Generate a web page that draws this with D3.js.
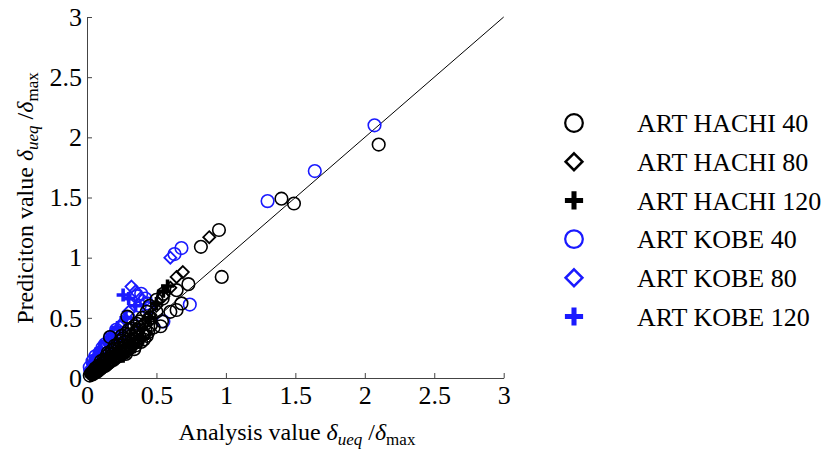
<!DOCTYPE html>
<html>
<head>
<meta charset="utf-8">
<script src="https://cdn.jsdelivr.net/npm/d3@7"></script>
<style>
  body { margin: 0; background: #fff; }
  svg text { font-family: "Liberation Serif", Tinos, "Times New Roman", Times, "DejaVu Serif", serif; }
</style>
</head>
<body>
<svg id="chart" width="829" height="451"></svg>
<script>
// values: [analysis, prediction]
const hachi40 = [
  [2.10, 1.94], [1.40, 1.49], [1.49, 1.45], [0.95, 1.23], [0.82, 1.09], [0.97, 0.84],
  [0.73, 0.78], [0.645, 0.73], [0.68, 0.62], [0.645, 0.565], [0.545, 0.66], [0.55, 0.70],
  [0.54, 0.47], [0.53, 0.43], [0.29, 0.51], [0.165, 0.34], [0.43, 0.55], [0.60, 0.55],
  [0.02, 0.02], [0.03, 0.04], [0.04, 0.03], [0.05, 0.06], [0.06, 0.05], [0.07, 0.08],
  [0.08, 0.06], [0.09, 0.10], [0.10, 0.08], [0.11, 0.12], [0.12, 0.10], [0.13, 0.14],
  [0.14, 0.11], [0.15, 0.16], [0.16, 0.13], [0.17, 0.18], [0.18, 0.15], [0.19, 0.20],
  [0.20, 0.17], [0.21, 0.22], [0.22, 0.19], [0.23, 0.25], [0.24, 0.20], [0.25, 0.27],
  [0.26, 0.22], [0.27, 0.30], [0.28, 0.24], [0.30, 0.32], [0.31, 0.26], [0.32, 0.35],
  [0.33, 0.28], [0.35, 0.38], [0.36, 0.30], [0.38, 0.42], [0.40, 0.36], [0.42, 0.45],
  [0.44, 0.38], [0.46, 0.50], [0.48, 0.42], [0.50, 0.55], [0.36, 0.45], [0.30, 0.40],
  [0.25, 0.35], [0.20, 0.27], [0.15, 0.21], [0.10, 0.14], [0.40, 0.50], [0.45, 0.60],
  [0.50, 0.65], [0.38, 0.34], [0.34, 0.24], [0.28, 0.20],
  [0.05, 0.04], [0.07, 0.05], [0.09, 0.07], [0.11, 0.09], [0.13, 0.10], [0.15, 0.12],
  [0.17, 0.14], [0.19, 0.15], [0.21, 0.17], [0.23, 0.18], [0.25, 0.20], [0.27, 0.21],
  [0.29, 0.23], [0.31, 0.25], [0.35, 0.27], [0.39, 0.30], [0.41, 0.32], [0.43, 0.35],
  [0.06, 0.08], [0.08, 0.10], [0.12, 0.15], [0.14, 0.18], [0.18, 0.23], [0.22, 0.28],
  [0.26, 0.33], [0.28, 0.37], [0.32, 0.41], [0.34, 0.43], [0.38, 0.47], [0.24, 0.31],
  [0.16, 0.20], [0.20, 0.24], [0.30, 0.36], [0.36, 0.40], [0.42, 0.40], [0.46, 0.44],
  [0.44, 0.48]
];
const hachi80 = [
  [0.88, 1.17], [0.69, 0.88], [0.645, 0.84], [0.60, 0.75], [0.55, 0.68], [0.50, 0.60],
  [0.45, 0.52], [0.40, 0.44], [0.35, 0.38], [0.30, 0.30], [0.25, 0.26], [0.20, 0.20],
  [0.15, 0.15], [0.10, 0.10], [0.06, 0.06], [0.03, 0.03], [0.42, 0.36], [0.33, 0.27],
  [0.22, 0.17], [0.12, 0.09]
];
const hachi120 = [
  [0.58, 0.765], [0.55, 0.72], [0.50, 0.62], [0.45, 0.50], [0.40, 0.33], [0.37, 0.32],
  [0.32, 0.28], [0.28, 0.22], [0.24, 0.20], [0.20, 0.16], [0.16, 0.13], [0.12, 0.10],
  [0.08, 0.07], [0.05, 0.04], [0.03, 0.02], [0.34, 0.26], [0.26, 0.18]
];
const kobe40 = [
  [2.07, 2.10], [1.64, 1.72], [1.30, 1.47], [0.68, 1.08], [0.63, 1.03], [0.74, 0.61],
  [0.55, 0.47], [0.36, 0.68], [0.39, 0.70], [0.42, 0.66], [0.43, 0.62], [0.38, 0.60],
  [0.30, 0.50], [0.25, 0.42], [0.20, 0.35], [0.16, 0.30], [0.12, 0.24], [0.08, 0.17],
  [0.05, 0.10], [0.03, 0.06], [0.10, 0.20], [0.14, 0.26], [0.18, 0.32], [0.22, 0.38],
  [0.06, 0.14], [0.15, 0.14], [0.25, 0.20], [0.44, 0.58], [0.33, 0.45],
  [0.04, 0.14], [0.06, 0.18], [0.09, 0.21], [0.11, 0.25], [0.13, 0.28], [0.17, 0.34],
  [0.21, 0.40], [0.19, 0.30], [0.23, 0.36], [0.02, 0.09]
];
const kobe80 = [
  [0.60, 1.00], [0.32, 0.76], [0.35, 0.72], [0.40, 0.65], [0.30, 0.55], [0.25, 0.45],
  [0.20, 0.38], [0.15, 0.30], [0.10, 0.22], [0.06, 0.15], [0.03, 0.08], [0.28, 0.48],
  [0.18, 0.33]
];
const kobe120 = [
  [0.26, 0.69], [0.30, 0.66], [0.28, 0.50], [0.22, 0.42], [0.18, 0.36], [0.14, 0.30],
  [0.10, 0.24], [0.07, 0.18], [0.04, 0.12], [0.02, 0.06], [0.35, 0.60]
];

const seriesNames = ['ART HACHI 40', 'ART HACHI 80', 'ART HACHI 120', 'ART KOBE 40', 'ART KOBE 80', 'ART KOBE 120'];
const seriesData  = [hachi40, hachi80, hachi120, kobe40, kobe80, kobe120];
const seriesShape = ['circle', 'diamond', 'plus', 'circle', 'diamond', 'plus'];
const seriesColor = ['#000', '#000', '#000', '#1a1aff', '#1a1aff', '#1a1aff'];
const drawOrder   = [3, 4, 5, 0, 1, 2]; // black sits on top in the dense cluster
const ticks = [0, 0.5, 1, 1.5, 2, 2.5, 3];

const svg = d3.select('#chart');
const x = d3.scaleLinear().domain([0, 3]).range([87, 503.7]);
const y = d3.scaleLinear().domain([0, 3]).range([378, 17]);

function marker(sel, shape, color, s) {
  if (shape === 'circle') {
    sel.append('circle').attr('r', 6.3 * s)
      .attr('fill', 'none').attr('stroke', color).attr('stroke-width', 1.6 * s);
  } else if (shape === 'diamond') {
    const d = 6 * s;
    sel.append('path').attr('d', `M0,${-d}L${d},0L0,${d}L${-d},0Z`)
      .attr('fill', 'none').attr('stroke', color).attr('stroke-width', 1.8 * s);
  } else {
    const a = 6.5 * s;
    sel.append('path').attr('d', `M${-a},0H${a}M0,${-a}V${a}`)
      .attr('fill', 'none').attr('stroke', color).attr('stroke-width', 3.6 * s);
  }
}

// axes
const fmt = d => d3.format('')(d);
const xAxis = svg.append('g').attr('transform', `translate(0,${y(0)})`)
  .call(d3.axisBottom(x).tickValues(ticks).tickFormat(fmt).tickSizeInner(-5).tickSizeOuter(0).tickPadding(8));
const yAxis = svg.append('g').attr('transform', `translate(${x(0)},0)`)
  .call(d3.axisLeft(y).tickValues(ticks).tickFormat(fmt).tickSizeInner(-5).tickSizeOuter(0).tickPadding(5));
[xAxis, yAxis].forEach(a => {
  a.attr('font-family', null);
  a.select('.domain').attr('stroke', '#444').attr('stroke-width', 1);
  a.selectAll('.tick line').attr('stroke', '#444');
  a.selectAll('.tick text').attr('font-size', 26).attr('fill', '#000');
});

// 1:1 line
svg.append('line')
  .attr('x1', x(0)).attr('y1', y(0)).attr('x2', x(3)).attr('y2', y(3))
  .attr('stroke', '#000').attr('stroke-width', 1);

// points
drawOrder.forEach(i => {
  svg.append('g').selectAll('g')
    .data(seriesData[i])
    .join('g')
    .attr('transform', d => `translate(${x(d[0])},${y(d[1])})`)
    .each(function() { marker(d3.select(this), seriesShape[i], seriesColor[i], 1); });
});

// axis titles
function title(t, label) {
  t.append('tspan').text(label);
  t.append('tspan').attr('font-style', 'italic').text('δ');
  t.append('tspan').attr('font-style', 'italic').attr('font-size', 17).attr('dy', 5).text('ueq');
  t.append('tspan').attr('dy', -5).text(' /');
  t.append('tspan').attr('font-style', 'italic').text('δ');
  t.append('tspan').attr('font-size', 17).attr('dy', 5).text('max');
}
const xt = svg.append('text').attr('x', 297).attr('y', 440)
  .attr('text-anchor', 'middle').attr('font-size', 24);
title(xt, 'Analysis value ');
const yt = svg.append('text').attr('transform', 'translate(33,198) rotate(-90)')
  .attr('text-anchor', 'middle').attr('font-size', 24);
title(yt, 'Prediciton value ');

// legend
const leg = svg.append('g');
seriesNames.forEach((name, i) => {
  const row = leg.append('g').attr('transform', `translate(574,${123 + i * 38.7})`);
  marker(row, seriesShape[i], seriesColor[i], 1.4);
  row.append('text').attr('x', 63).attr('dy', '0.35em')
    .attr('font-size', 26).text(name);
});
</script>
</body>
</html>
